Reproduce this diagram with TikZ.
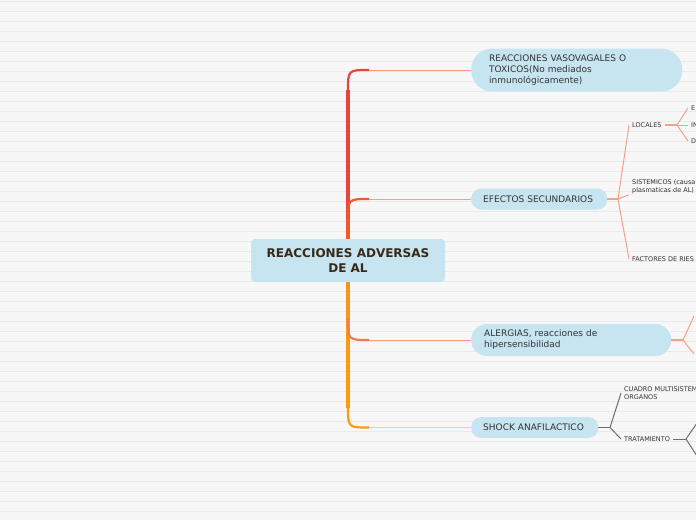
\documentclass[tikz,border=0pt]{standalone}
\usepackage{fontspec}
\setmainfont{DejaVu Sans}
\usetikzlibrary{calc}

\definecolor{paper}{HTML}{F7F7F7}
\definecolor{ruling}{HTML}{EAEAEA}
\definecolor{topicblue}{HTML}{C6E5F0}
\definecolor{inkgray}{HTML}{333333}
\definecolor{hubink}{HTML}{3A2818}
\definecolor{redbranch}{HTML}{E8463C}
\definecolor{redorange}{HTML}{F05A28}
\definecolor{ambertrunk}{HTML}{F7941D}
\definecolor{orangebranch}{HTML}{FF9A10}
\definecolor{salmon}{HTML}{F5A08A}
\definecolor{peach}{HTML}{FCCB94}
\definecolor{twiggray}{HTML}{6E6E6E}

\tikzset{
	hub/.style={fill=topicblue, rounded corners=4pt, text=hubink, font=\fontsize{12}{14.5}\selectfont\bfseries, align=center, minimum width=194pt, minimum height=43pt, inner sep=0pt},
	topic/.style={fill=topicblue, anchor=west, text=inkgray, font=\fontsize{9}{11}\selectfont, align=left, inner ysep=0pt},
	leaf/.style={anchor=west, text=inkgray, font=\fontsize{6.5}{7.8}\selectfont, align=left, inner xsep=3pt, inner ysep=1pt},
	trunk/.style={line width=4pt, draw=#1},
	elbow/.style={line width=2.2pt, draw=#1},
	twig/.style={line width=1pt, draw=#1},
}

\begin{document}
\begin{tikzpicture}[x=1pt,y=-1pt]
		%%%%% START %%%%%
		
		\useasboundingbox (0,0) rectangle (696,520);
		\fill[paper] (0,0) rectangle (696,520);
		\foreach \k in {0,...,51}
			\draw[ruling, line width=1pt] (0,1.5+10*\k) -- (696,1.5+10*\k);
		
		\node[hub] (hub) at (348,260.5) {REACCIONES ADVERSAS\\DE AL};
		
		\node[topic, text width=175pt, inner xsep=18pt, minimum height=43pt, rounded corners=21pt] (vaso) at (471,70) {REACCIONES VASOVAGALES O\\TOXICOS(No mediados\\inmunológicamente)};
		\node[topic, text width=112pt, inner xsep=12pt, minimum height=21pt, rounded corners=10pt] (efectos) at (471,199) {EFECTOS SECUNDARIOS};
		\node[topic, text width=174pt, inner xsep=13pt, minimum height=32pt, rounded corners=16pt] (alergias) at (471,340) {ALERGIAS, reacciones de\\hipersensibilidad};
		\node[topic, text width=103pt, inner xsep=12pt, minimum height=21pt, rounded corners=10pt] (shock) at (471,427.5) {SHOCK ANAFILACTICO};
		
		% branches out of the hub
		\coordinate (k1) at (348,70);
		\coordinate (k2) at (348,199);
		\coordinate (k3) at (348,340);
		\coordinate (k4) at (348,427.5);
		
		\draw[trunk=redbranch] (hub.north) -- ($(k1)+(0,20)$);
		\draw[elbow=redbranch] ($(k1)+(0,21)$) .. controls (k1) .. ($(k1)+(21,0)$);
		\draw[twig=salmon] ($(k1)+(21,0)$) -- (vaso.west);
		
		\draw[trunk=redorange] (hub.north) -- ($(k2)+(0,20)$);
		\draw[elbow=redorange] ($(k2)+(0,21)$) .. controls (k2) .. ($(k2)+(21,0)$);
		\draw[twig=salmon] ($(k2)+(21,0)$) -- (efectos.west);
		
		\draw[trunk=orangebranch] (hub.south) -- ($(k4)+(0,-20)$);
		\draw[elbow=orangebranch] ($(k4)+(0,-21)$) .. controls (k4) .. ($(k4)+(21,0)$);
		\draw[twig=peach] ($(k4)+(21,0)$) -- (shock.west);
		
		\draw[trunk=ambertrunk] (hub.south) -- ($(k3)+(0,-20)$);
		\draw[elbow=redorange!80] ($(k3)+(0,-21)$) .. controls (k3) .. ($(k3)+(21,0)$);
		\draw[twig=salmon] ($(k3)+(21,0)$) -- (alergias.west);
		
		% efectos secundarios
		\node[leaf] (locales) at (629,125) {LOCALES};
		\node[leaf] (sistemicos) at (629,186.5) {SISTEMICOS (causa\\plasmaticas de AL)};
		\node[leaf] (factores) at (629,259) {FACTORES DE RIES};
		\coordinate (f2) at (618,199);
		\draw[twig=salmon, line width=1.6pt] (efectos.east) -- (f2);
		\draw[twig=salmon] (f2) -- (locales.west);
		\draw[twig=salmon] (f2) -- (sistemicos.south west);
		\draw[twig=salmon] (f2) -- (factores.west);
		
		\node[leaf] (le) at (688,108) {E};
		\node[leaf] (li) at (688,125) {IN};
		\node[leaf] (ld) at (688,141) {D};
		\coordinate (fl) at (677,125);
		\draw[twig=salmon, line width=1.6pt] (locales.east) -- (fl);
		\draw[twig=salmon] (fl) -- (le.west);
		\draw[twig=salmon] (fl) -- (li.west);
		\draw[twig=salmon] (fl) -- (ld.west);
		
		% alergias
		\coordinate (f3) at (683,340);
		\coordinate (a1) at (694,316);
		\coordinate (a2) at (694,354);
		\draw[twig=salmon, line width=1.6pt] (alergias.east) -- (f3);
		\draw[twig=salmon] (f3) -- (a1);
		\draw[twig=salmon] (f3) -- (a2);
		
		% shock
		\node[leaf] (cuadro) at (621,393) {CUADRO MULTISISTEM\\ORGANOS};
		\node[leaf] (tratamiento) at (621,439) {TRATAMIENTO};
		\coordinate (f4) at (610,427.5);
		\draw[twig=twiggray] (shock.east) -- (f4);
		\draw[twig=twiggray] (f4) -- (cuadro.west);
		\draw[twig=twiggray] (f4) -- (tratamiento.west);
		
		\coordinate (ft) at (686,439);
		\coordinate (t1) at (697,423);
		\coordinate (t2) at (697,456);
		\draw[twig=twiggray] (tratamiento.east) -- (ft);
		\draw[twig=twiggray] (ft) -- (t1);
		\draw[twig=twiggray] (ft) -- (t2);
		
		%%%%% END %%%%%
	\end{tikzpicture}
\end{document}
